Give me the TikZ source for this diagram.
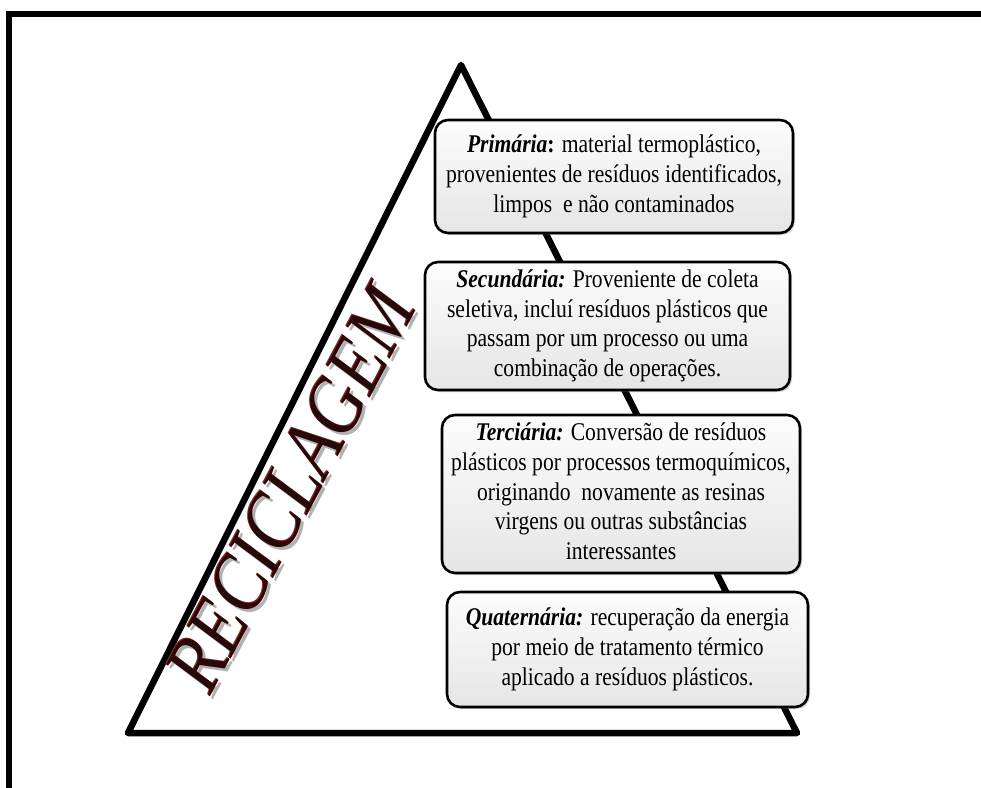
\documentclass[tikz,border=0pt]{standalone}
\usepackage{fontspec}
\setmainfont{Liberation Serif}
\usepackage{xcolor}
\usepackage{graphicx}
\usetikzlibrary{shadows}

\definecolor{lettercol}{RGB}{38,10,10}
\definecolor{edgecol}{RGB}{150,30,30}

% text of one level, stretched upwards like the original
\newcommand{\lvltext}[1]{\scalebox{1}[1.18]{\begin{tabular}{@{}c@{}}#1\end{tabular}}}
\newcommand{\bigword}{\scalebox{1}[1.15]{RECICLAGEM}}

\begin{document}
\begin{tikzpicture}[
  x=1pt, y=-1pt,
  frame/.style={line width=6pt, line join=miter},
  tri/.style={line width=6.5pt, line join=round, line cap=round,
              drop shadow={opacity=0.3, shadow xshift=1.5pt, shadow yshift=-2pt}},
  lvl/.style={draw=black, line width=2.6pt, rounded corners=13pt,
              top color=gray!2, bottom color=gray!20, align=center, inner sep=0pt,
              font=\fontsize{21.6}{25.4}\selectfont,
              drop shadow={opacity=0.35, shadow xshift=2pt, shadow yshift=-2pt}},
  big/.style={rotate=62, font=\fontsize{71}{71}\selectfont\itshape}
]
\useasboundingbox (0,0) rectangle (981,787);
\fill[white] (0,0) rectangle (981,787);

% outer frame, only top and left show
\draw[frame] (9,800) -- (9,14) -- (990,14);

% the pyramid
\coordinate (apex) at (461,65);
\coordinate (bl)   at (128,733);
\coordinate (br)   at (797,733);
\draw[tri, fill=white] (apex) -- (bl) -- (br) -- cycle;

% title along the left side
\node[big, text=gray!60] at (294,492) {\bigword};
\node[big, text=edgecol] at (290,488) {\bigword};
\node[big, text=lettercol] (title) at (291,489) {\bigword};

% the four levels
\node[lvl, minimum width=358pt, minimum height=113pt] (prim) at (614,176.5)
  {\lvltext{\textbf{\textit{Primária}}\textbf{:} material termoplástico,\\
   provenientes de resíduos identificados,\\
   limpos\ \ e não contaminados}};
\node[lvl, minimum width=365pt, minimum height=128pt] (sec) at (607.5,326)
  {\lvltext{\textbf{\textit{Secundária:}} Proveniente de coleta\\
   seletiva, incluí resíduos plásticos que\\
   passam por um processo ou uma\\
   combinação de operações.}};
\node[lvl, minimum width=358pt, minimum height=158pt] (terc) at (621,494)
  {\lvltext{\textbf{\textit{Terciária:}} Conversão de resíduos\\
   plásticos por processos termoquímicos,\\
   originando\ \ novamente as resinas\\
   virgens ou outras substâncias\\
   interessantes}};
\node[lvl, minimum width=361pt, minimum height=115pt] (quat) at (627.5,649.5)
  {\lvltext{\textbf{\textit{Quaternária:}} recuperação da energia\\
   por meio de tratamento térmico\\
   aplicado a resíduos plásticos.}};
\end{tikzpicture}
\end{document}
